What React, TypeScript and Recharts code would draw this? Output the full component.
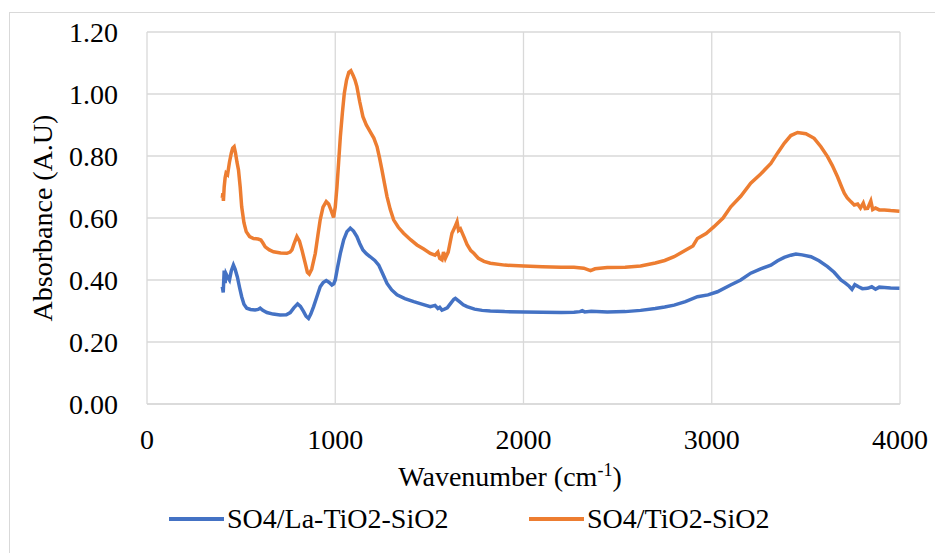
import { CartesianGrid, Line, LineChart, XAxis, YAxis } from "recharts";

const FONT = '"Liberation Serif", "Times New Roman", "DejaVu Serif", serif';
const BLUE = "#4472C4";
const ORANGE = "#ED7D31";
const GRID = "#d9d9d9";
const FONT_SIZE = 28;

const xTicks = [0, 1000, 2000, 3000, 4000];
const yTicks = [0, 0.2, 0.4, 0.6, 0.8, 1.0, 1.2];

const seriesNames = ["SO4/La-TiO2-SiO2", "SO4/TiO2-SiO2"];

// SO4/La-TiO2-SiO2
const laWavenumber = [
  400, 405, 410, 415, 420, 428, 438, 448, 459, 468, 480, 492, 503, 515, 530, 550, 574, 590, 601, 615, 637, 670,
  707, 740, 761, 780, 800, 815, 832, 845, 858, 870, 885, 902, 920, 936, 952, 968, 982, 992, 1000, 1012, 1027,
  1045, 1062, 1080, 1097, 1115, 1130, 1147, 1165, 1186, 1210, 1231, 1252, 1275, 1300, 1328, 1370, 1417, 1460,
  1505, 1530, 1545, 1555, 1567, 1580, 1595, 1610, 1630, 1638, 1648, 1660, 1680, 1700, 1740, 1780, 1824, 1900,
  2002, 2100, 2200, 2268, 2300, 2312, 2325, 2360, 2445, 2540, 2622, 2700, 2750, 2800, 2860, 2924, 2980, 3030,
  3100, 3154, 3207, 3260, 3314, 3350, 3385, 3420, 3447, 3480, 3527, 3570, 3615, 3650, 3686, 3710, 3730, 3745,
  3760, 3780, 3800, 3828, 3850, 3870, 3890, 3917, 3950, 3997,
];
const laAbsorbance = [
  0.378, 0.36, 0.43, 0.39, 0.42, 0.41, 0.4, 0.43, 0.448, 0.435, 0.41, 0.375, 0.346, 0.322, 0.309, 0.305, 0.303,
  0.305, 0.309, 0.302, 0.295, 0.29, 0.287, 0.288, 0.295, 0.31, 0.323, 0.315, 0.298, 0.283, 0.276, 0.29, 0.314,
  0.345, 0.378, 0.392, 0.398, 0.392, 0.384, 0.388, 0.4, 0.44, 0.486, 0.53, 0.556, 0.567, 0.558, 0.54, 0.518,
  0.497, 0.485, 0.475, 0.463, 0.448, 0.42, 0.389, 0.368, 0.352, 0.34, 0.33, 0.322, 0.314, 0.318, 0.308, 0.312,
  0.303, 0.306, 0.31, 0.322, 0.338, 0.341, 0.336, 0.33, 0.32, 0.314, 0.306, 0.302, 0.3, 0.298, 0.297, 0.296,
  0.295, 0.296, 0.298, 0.301, 0.297, 0.299, 0.297, 0.298, 0.302, 0.308, 0.313, 0.319, 0.33, 0.346, 0.352, 0.362,
  0.384, 0.4, 0.422, 0.436, 0.448, 0.462, 0.473, 0.48, 0.484, 0.481, 0.475, 0.462, 0.443, 0.425, 0.4, 0.39, 0.38,
  0.37, 0.385, 0.378, 0.372, 0.373, 0.378, 0.37, 0.377, 0.376, 0.374, 0.373,
];

// SO4/TiO2-SiO2
const tiWavenumber = [
  400, 403, 406, 410, 415, 420, 428, 438, 448, 455, 463, 470, 478, 486, 495, 503, 515, 527, 545, 566, 590, 605,
  615, 628, 650, 672, 710, 743, 760, 770, 783, 796, 810, 823, 840, 852, 862, 875, 894, 908, 920, 935, 952, 965,
  977, 991, 1000, 1009, 1018, 1027, 1038, 1048, 1060, 1072, 1083, 1095, 1105, 1115, 1130, 1147, 1165, 1186, 1205,
  1222, 1235, 1248, 1262, 1275, 1292, 1310, 1335, 1363, 1400, 1434, 1470, 1505, 1530, 1545, 1555, 1567, 1575,
  1585, 1600, 1620, 1635, 1647, 1655, 1665, 1683, 1700, 1720, 1736, 1760, 1790, 1824, 1900, 2002, 2100, 2200,
  2268, 2320, 2356, 2380, 2445, 2540, 2622, 2700, 2750, 2800, 2860, 2900, 2924, 2970, 3012, 3060, 3101, 3154,
  3207, 3260, 3314, 3350, 3385, 3420, 3456, 3500, 3544, 3580, 3615, 3640, 3668, 3690, 3704, 3720, 3740, 3757,
  3775, 3790, 3805, 3815, 3828, 3845, 3855, 3870, 3890, 3917, 3950, 3997,
];
const tiAbsorbance = [
  0.665, 0.68, 0.655, 0.7, 0.73, 0.745, 0.74, 0.78, 0.81, 0.825, 0.83, 0.81, 0.78, 0.755, 0.7, 0.636, 0.585,
  0.556, 0.54, 0.534, 0.532, 0.529, 0.52, 0.507, 0.497, 0.491, 0.487, 0.486, 0.49, 0.497, 0.52, 0.54, 0.525,
  0.497, 0.455, 0.425, 0.419, 0.435, 0.486, 0.545, 0.594, 0.635, 0.653, 0.645, 0.626, 0.602, 0.635, 0.7, 0.78,
  0.862, 0.94, 1.002, 1.045, 1.07, 1.075, 1.06, 1.045, 1.024, 0.975, 0.927, 0.9, 0.878, 0.858, 0.83, 0.795,
  0.755, 0.71, 0.669, 0.628, 0.594, 0.57, 0.551, 0.53, 0.513, 0.5, 0.486, 0.48, 0.49, 0.47, 0.465, 0.49, 0.47,
  0.49, 0.551, 0.57, 0.588, 0.56, 0.565, 0.54, 0.515, 0.495, 0.486, 0.47, 0.46, 0.454, 0.448, 0.445, 0.443,
  0.441, 0.441, 0.438, 0.43, 0.436, 0.44, 0.441, 0.445, 0.455, 0.463, 0.475, 0.496, 0.51, 0.534, 0.55, 0.572,
  0.6, 0.636, 0.67, 0.712, 0.742, 0.776, 0.81, 0.841, 0.866, 0.876, 0.872, 0.857, 0.83, 0.798, 0.77, 0.733, 0.7,
  0.68, 0.665, 0.652, 0.642, 0.645, 0.632, 0.648, 0.63, 0.631, 0.655, 0.627, 0.632, 0.626, 0.626, 0.624, 0.622,
];

const laData = laWavenumber.map((x, i) => ({ x, y: laAbsorbance[i] }));
const tiData = tiWavenumber.map((x, i) => ({ x, y: tiAbsorbance[i] }));

const tickStyle = { fontFamily: FONT, fontSize: FONT_SIZE, fill: "#000" };

function XLabel() {
  return (
    <text x={510} y={486} textAnchor="middle" style={{ fontFamily: FONT, fontSize: FONT_SIZE }} fill="#000">
      Wavenumber (cm
      <tspan dy={-10} style={{ fontSize: 18 }}>
        -1
      </tspan>
      <tspan dy={10}>)</tspan>
    </text>
  );
}

function YLabel() {
  return (
    <text
      x={52}
      y={218}
      transform="rotate(-90 52 218)"
      textAnchor="middle"
      style={{ fontFamily: FONT, fontSize: FONT_SIZE }}
      fill="#000"
    >
      Absorbance (A.U)
    </text>
  );
}

function ChartLegend() {
  const colors = [BLUE, ORANGE];
  const lefts = [169, 529];
  return (
    <>
      {seriesNames.map((name, i) => (
        <div
          key={name}
          style={{
            position: "absolute",
            left: lefts[i],
            top: 502,
            display: "flex",
            alignItems: "center",
            fontFamily: FONT,
            fontSize: FONT_SIZE,
            color: "#000",
            whiteSpace: "nowrap",
          }}
        >
          <span style={{ display: "inline-block", width: 55, height: 4, background: colors[i], marginRight: 3 }} />
          <span style={{ lineHeight: "34px" }}>{name}</span>
        </div>
      ))}
    </>
  );
}

export default function App() {
  return (
    <div
      style={{
        position: "absolute",
        left: 0,
        top: 0,
        width: 935,
        height: 553,
        overflow: "hidden",
        background: "#fff",
        fontFamily: FONT,
      }}
    >
      <div
        style={{
          position: "absolute",
          left: 9,
          top: 12,
          width: 960,
          height: 600,
          border: `1px solid ${GRID}`,
        }}
      />
      <div style={{ position: "absolute", left: 0, top: 0 }}>
        <LineChart width={935} height={553} margin={{ top: 32, right: 35, bottom: 119, left: 0 }}>
          <CartesianGrid stroke={GRID} strokeWidth={1.3} />
          <XAxis
            dataKey="x"
            type="number"
            domain={[0, 4000]}
            ticks={xTicks}
            height={30}
            tick={tickStyle}
            tickLine={false}
            tickSize={0}
            tickMargin={25}
            axisLine={{ stroke: GRID, strokeWidth: 1.3 }}
            label={<XLabel />}
          />
          <YAxis
            type="number"
            domain={[0, 1.2]}
            ticks={yTicks}
            width={147}
            tick={tickStyle}
            tickLine={false}
            tickSize={0}
            tickMargin={29}
            axisLine={false}
            tickFormatter={(v: number) => v.toFixed(2)}
            label={<YLabel />}
          />
          <Line
            data={laData}
            dataKey="y"
            name={seriesNames[0]}
            type="linear"
            stroke={BLUE}
            strokeWidth={3.5}
            dot={false}
            isAnimationActive={false}
          />
          <Line
            data={tiData}
            dataKey="y"
            name={seriesNames[1]}
            type="linear"
            stroke={ORANGE}
            strokeWidth={3.5}
            dot={false}
            isAnimationActive={false}
          />
        </LineChart>
      </div>
      <ChartLegend />
    </div>
  );
}
